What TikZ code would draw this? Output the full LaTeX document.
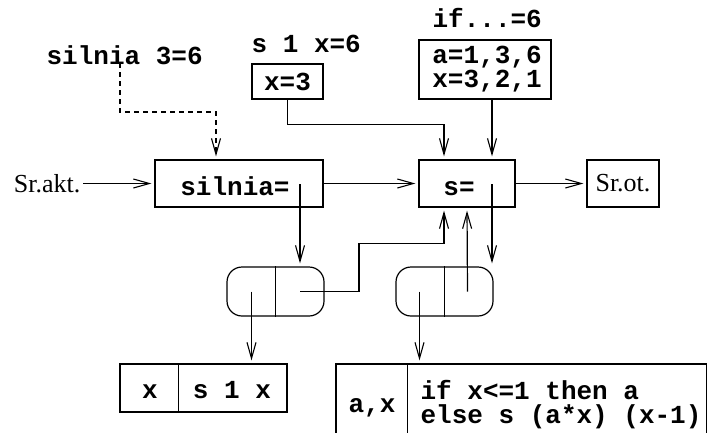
\documentclass[tikz,border=0pt]{standalone}
\usepackage{fontspec}
\setmainfont{Liberation Serif}
\newfontfamily\codefont{Liberation Mono}
\usetikzlibrary{arrows.meta}
\begin{document}
\begin{tikzpicture}[x=1pt,y=-1pt,line width=1.2pt,
  >={Straight Barb[length=16pt,width=9pt,line width=1.1pt]},
  conn/.style={->,shorten >=3pt},
  code/.style={font=\codefont\bfseries\fontsize{26}{23.5}\selectfont,inner sep=0pt},
  roman/.style={font=\fontsize{26}{28}\selectfont,inner sep=2pt},
  frame/.style={draw,inner sep=0pt},
  pairbox/.style={draw,rounded corners=15pt,inner sep=0pt,minimum width=97pt,minimum height=49pt}]
\useasboundingbox (0,0) rectangle (708,432);

% environment boxes and closures
\node[frame,minimum width=168pt,minimum height=47pt] (silnia) at (239,183.5) {};
\node[code,anchor=base] (tsilnia) at (235,195) {silnia=};
\node[frame,minimum width=96pt,minimum height=47pt] (s) at (467,183.5) {};
\node[code,anchor=base] (ts) at (459,195) {s=};
\node[frame,minimum width=72pt,minimum height=47pt,roman] (srot) at (623,183.5) {Sr.ot.};
\node[roman,anchor=east] (srakt) at (83,183.5) {Sr.akt.};

\node[frame,minimum width=71pt,minimum height=35pt] (x3) at (287.5,81.5) {};
\node[code] (tx3) at (287.5,82) {x=3};
\node[code,anchor=base west] (ls1) at (251,52) {s 1 x=6};

\node[frame,minimum width=132pt,minimum height=59pt] (ax) at (485,69.5) {};
% multi-line nodes: the base anchor sits on the last line
\node[code,align=left,anchor=base] (tax) at (487,87) {a=1,3,6\\x=3,2,1};
\node[code,anchor=base west] (lif) at (432,27) {if...=6};

\node[code,anchor=base west] (lsil3) at (46,64) {silnia 3=6};

% pairs
\node[pairbox] (p1) at (275.5,291.5) {};
\draw (p1.north) -- (p1.south);
\node[pairbox] (p2) at (444.5,291.5) {};
\draw (p2.north) -- (p2.south);

% function bodies
\node[frame,minimum width=167pt,minimum height=48pt] (b1) at (203.5,388) {};
\draw ([xshift=59pt]b1.north west) -- ([xshift=59pt]b1.south west);
\node[code,anchor=base] (tb1a) at (150,398) {x};
\node[code,anchor=base] (tb1b) at (232,398) {s 1 x};

\node[frame,minimum width=370.5pt,minimum height=90pt] (b2) at (521.25,409) {};
\draw ([xshift=72pt]b2.north west) -- ([xshift=72pt]b2.south west);
\node[code,anchor=base] (tb2a) at (372,412) {a,x};
\node[code,anchor=base west,align=left] (tb2b) at (420,423) {if x<=1 then a\\else s (a*x) (x-1)};

% connectors
\coordinate (dstart) at (120,63);
\draw[conn,dashed,dash pattern=on 5pt off 4pt] (dstart) -- (120,112) -| ([xshift=-23pt]silnia.north);
\draw[conn] (srakt) -- (silnia);
\draw[conn] (silnia) -- (s);
\draw[conn] (s) -- (srot);
\draw[conn] (x3.south) -- ++(0,25) -| ([xshift=-23pt]s.north);
\draw[conn] ([xshift=7pt]ax.south) -- ([xshift=25pt]s.north);

\coordinate (silin) at (300,184);
\draw[conn] (silin) -- (silin |- p1.north);
\coordinate (sin) at (492,184);
\draw[conn] (sin) -- (sin |- p2.north);

\draw[conn] ([xshift=-24pt]p1.center) -- ([xshift=-24pt]p1.center |- b1.north);
\draw[conn] ([xshift=24.5pt]p1.center) -- ++(59,0) |- ([xshift=-23pt,yshift=-36pt]s.south) -- ([xshift=-23pt]s.south);
\draw[conn] ([xshift=-25pt]p2.center) -- ([xshift=-25pt]p2.center |- b2.north);
\draw[conn] ([xshift=23pt]p2.center) -- (s.south);
\end{tikzpicture}
\end{document}
